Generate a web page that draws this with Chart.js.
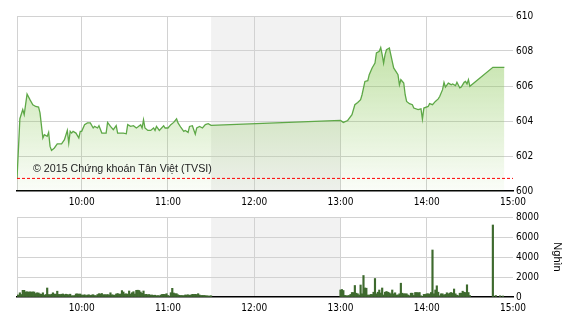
<!DOCTYPE html>
<html><head><meta charset="utf-8">
<script src="https://cdn.jsdelivr.net/npm/chart.js@4.4.1/dist/chart.umd.min.js"></script>
<style>
html,body{margin:0;padding:0;background:#fff;}
#wrap{position:relative;width:570px;height:320px;overflow:hidden;background:#fff}
canvas{position:absolute;left:0}
</style></head><body>
<div id="wrap">
<canvas id="c1" width="570" height="208" style="top:0"></canvas>
<canvas id="c2" width="570" height="112" style="top:208px"></canvas>
</div>
<script>
// ---------- DATA ----------
const priceTimes = ["9:15","9:17","9:19","9:20","9:22","9:24","9:26","9:28","9:30","9:31","9:33","9:34","9:36","9:37","9:38","9:39","9:41","9:43","9:46","9:48","9:50","9:51","9:52","9:53","9:54","9:56","9:58","9:59","10:00","10:02","10:04","10:06","10:08","10:09","10:11","10:12","10:14","10:17","10:18","10:20","10:22","10:24","10:25","10:29","10:31","10:32","10:34","10:36","10:38","10:39","10:41","10:42","10:43","10:44","10:46","10:48","10:50","10:51","10:52","10:54","10:57","10:58","11:00","11:02","11:04","11:06","11:07","11:09","11:11","11:12","11:14","11:15","11:17","11:19","11:20","11:22","11:24","11:26","11:28","11:30",
"13:00","13:02","13:05","13:08","13:10","13:12","13:14","13:15","13:17","13:19","13:20","13:22","13:24","13:25","13:27","13:28","13:29","13:30","13:31","13:32","13:34","13:36","13:37","13:40","13:41","13:42","13:44","13:45","13:46","13:48","13:50","13:51","13:54","13:56","13:57","13:58","14:01","14:02","14:04","14:06","14:08","14:09","14:11","14:12","14:13","14:15","14:16","14:17","14:18","14:20","14:21","14:23","14:24","14:26","14:27","14:28","14:29","14:30","14:46","14:54"];
const priceValues = [600.70,604.13,604.65,604.36,605.54,605.22,604.93,604.83,604.80,604.46,603.03,603.22,603.12,603.35,602.55,602.32,602.46,602.69,602.69,602.93,603.46,602.74,603.41,603.31,603.41,603.31,603.03,603.41,603.41,603.79,603.89,603.89,603.60,603.69,603.60,603.73,603.31,603.31,603.92,603.69,603.50,603.73,603.31,603.31,603.27,603.79,603.69,603.73,603.60,603.66,603.79,603.60,604.07,603.60,603.46,603.46,603.60,603.46,603.69,603.46,603.73,603.60,603.60,603.79,603.92,604.13,603.89,603.63,603.41,603.46,603.35,603.69,603.73,603.25,603.60,603.69,603.60,603.79,603.85,603.75,
604.03,603.92,604.03,604.36,604.93,605.06,605.22,605.50,606.26,606.30,606.65,607.03,607.31,607.89,607.98,608.20,607.79,607.31,607.79,608.07,608.17,607.41,607.03,606.65,606.07,606.36,606.17,605.50,605.12,604.99,604.93,604.74,604.65,604.69,604.11,604.74,604.83,604.99,604.93,605.12,605.26,605.40,605.79,606.21,605.94,606.17,606.12,606.07,606.12,606.02,606.21,605.89,605.94,606.21,606.26,606.12,606.36,605.98,607.07,607.07];
const referencePrice = 600.72;

const volMorningStart = "9:15";
const volMorning = [200,200,420,250,670,670,510,520,500,510,500,510,500,350,420,400,300,280,420,180,250,900,250,220,280,420,300,280,580,260,250,280,300,230,280,250,220,280,130,120,150,300,320,280,300,200,180,230,150,200,220,160,200,230,150,130,250,330,300,350,230,240,220,250,200,420,220,200,180,
300,350,280,300,640,500,300,320,280,600,300,430,530,300,670,680,650,500,370,600,250,270,220,250,180,200,160,180,130,140,120,200,260,270,250,330,150,100,430,870,400,330,330,220,170,150,150,140,200,200,220,180,200,270,260,270,250,330,200,150,160,150,140,120,100,100,120];
const volAfternoonStart = "13:00";
const volAfternoon = [700,750,650,160,130,130,150,260,450,450,1150,380,320,200,1200,320,2150,900,880,200,180,260,250,480,1850,320,480,700,400,900,200,480,550,480,420,320,700,320,420,200,200,320,1380,380,320,320,320,200,130,380,380,160,450,450,420,450,120,60,260,260,320,320,300,450,4700,320,700,1120,480,130,320,320,200,260,420,320,400,450,380,800,320,180,130,380,380,580,480,450,1220,450,150];
const volLateTimes = ["14:46","14:48","14:51","14:53"];
const volLate = [7200,150,120,100];

const xTickLabels = ["10:00","11:00","12:00","13:00","14:00","15:00"];
const priceTicks = [600,602,604,606,608,610];
const volTicks = [0,2000,4000,6000,8000];
const sessionStart = "9:15", sessionEnd = "15:00", breakStart = "11:30", breakEnd = "13:00";
const copyrightText = "© 2015 Chứng khoán Tân Việt (TVSI)";
const volUnit = "Nghìn";

// ---------- HELPERS ----------
function toMin(s){const p=s.split(':').map(Number);return p[0]*60+p[1];}
function fmt(v){const h=Math.floor(v/60),m=Math.round(v%60);return h+':'+(m<10?'0':'')+m;}
const GRID='#d2d2d2', SHADE='#f2f2f2';
const tickFont={family:'"Liberation Sans Narrow","DejaVu Sans Condensed","Liberation Sans",Arial,sans-serif',size:10};
Chart.defaults.color='#000';
Chart.defaults.font.family='"Liberation Sans",Arial,sans-serif';
Chart.defaults.font.size=11;

const shadePlugin={id:'shade',beforeDraw(chart){
  const {ctx,chartArea:a,scales:{x}}=chart;
  const x0=x.getPixelForValue(toMin(breakStart)),x1=x.getPixelForValue(toMin(breakEnd));
  ctx.save();ctx.fillStyle=SHADE;ctx.fillRect(x0,a.top,x1-x0,a.bottom-a.top);
  ctx.strokeStyle=GRID;ctx.lineWidth=1;ctx.beginPath();ctx.moveTo(a.left+0.5,a.top);ctx.lineTo(a.left+0.5,a.bottom);ctx.stroke();
  ctx.restore();}};

function xScale(){return {type:'linear',min:toMin(sessionStart),max:toMin(sessionEnd),offset:false,
  afterBuildTicks:s=>{s.ticks=xTickLabels.map(t=>({value:toMin(t)}));},
  ticks:{font:tickFont,padding:5,maxRotation:0,autoSkip:false,callback:v=>fmt(v)},
  grid:{offset:false,drawTicks:false,color:c=>(c.tick&&c.tick.value===toMin(sessionEnd))?'rgba(0,0,0,0)':GRID},
  border:{display:true,color:'#000',width:1.5}};}

// ---------- PRICE CHART ----------
const priceData=priceTimes.map((t,i)=>({x:toMin(t),y:priceValues[i]}));
new Chart(document.getElementById('c1'),{
  type:'line',
  data:{datasets:[
    {data:[{x:toMin(sessionStart),y:referencePrice},{x:toMin(sessionEnd),y:referencePrice}],borderColor:'#ff0000',borderWidth:1,borderDash:[3,2],pointRadius:0,fill:false},
    {data:priceData,borderColor:'#5ea847',borderWidth:1.3,pointRadius:0,tension:0,fill:'start',
     backgroundColor:(c)=>{const a=c.chart.chartArea;if(!a)return 'rgba(150,205,100,0.3)';const g=c.chart.ctx.createLinearGradient(0,a.top,0,a.bottom);g.addColorStop(0,'rgba(140,200,90,0.62)');g.addColorStop(1,'rgba(140,200,90,0.04)');return g;}}
  ]},
  options:{responsive:false,animation:false,events:[],
    layout:{padding:{left:17,top:16,right:0,bottom:0}},
    plugins:{legend:{display:false},tooltip:{enabled:false}},
    scales:{
      x:Object.assign(xScale(),{afterFit:s=>{s.height=17;}}),
      y:{position:'right',min:600,max:610,
        afterBuildTicks:s=>{s.ticks=priceTicks.map(v=>({value:v}));},
        afterFit:s=>{s.width=57;},
        ticks:{font:tickFont,padding:3,callback:v=>String(v)},
        grid:{drawTicks:false,color:c=>(c.tick&&c.tick.value===600)?'rgba(0,0,0,0)':GRID},
        border:{display:false}}
    }},
  plugins:[shadePlugin,{id:'copy',afterDraw(chart){const {ctx,chartArea:a}=chart;ctx.save();ctx.fillStyle='#222';ctx.font='10.7px "Liberation Sans",Arial,sans-serif';ctx.textBaseline='middle';ctx.textAlign='left';ctx.fillText(copyrightText,a.left+16,a.bottom-22);ctx.restore();}}]
});

// ---------- VOLUME CHART ----------
const volData=[];
volMorning.forEach((v,i)=>volData.push({x:toMin(volMorningStart)+i,y:v}));
volAfternoon.forEach((v,i)=>volData.push({x:toMin(volAfternoonStart)+i,y:v}));
volLateTimes.forEach((t,i)=>volData.push({x:toMin(t),y:volLate[i]}));
new Chart(document.getElementById('c2'),{
  type:'bar',
  data:{datasets:[{data:volData,backgroundColor:'#3e6a2e',barThickness:1.5,borderWidth:0}]},
  options:{responsive:false,animation:false,events:[],
    layout:{padding:{left:17,top:6,right:0,bottom:0}},
    plugins:{legend:{display:false},tooltip:{enabled:false}},
    scales:{
      x:Object.assign(xScale(),{afterFit:s=>{s.height=23;}}),
      y:{position:'right',min:0,max:8000,
        afterBuildTicks:s=>{s.ticks=volTicks.map(v=>({value:v}));},
        afterFit:s=>{s.width=57;},
        ticks:{font:tickFont,padding:3,callback:v=>String(v)},
        title:{display:true,text:volUnit,font:{size:11},padding:{top:6,bottom:0}},
        grid:{drawTicks:false,color:c=>(c.tick&&c.tick.value===0)?'rgba(0,0,0,0)':GRID},
        border:{display:false}}
    }},
  plugins:[shadePlugin]
});
</script>
</body></html>
